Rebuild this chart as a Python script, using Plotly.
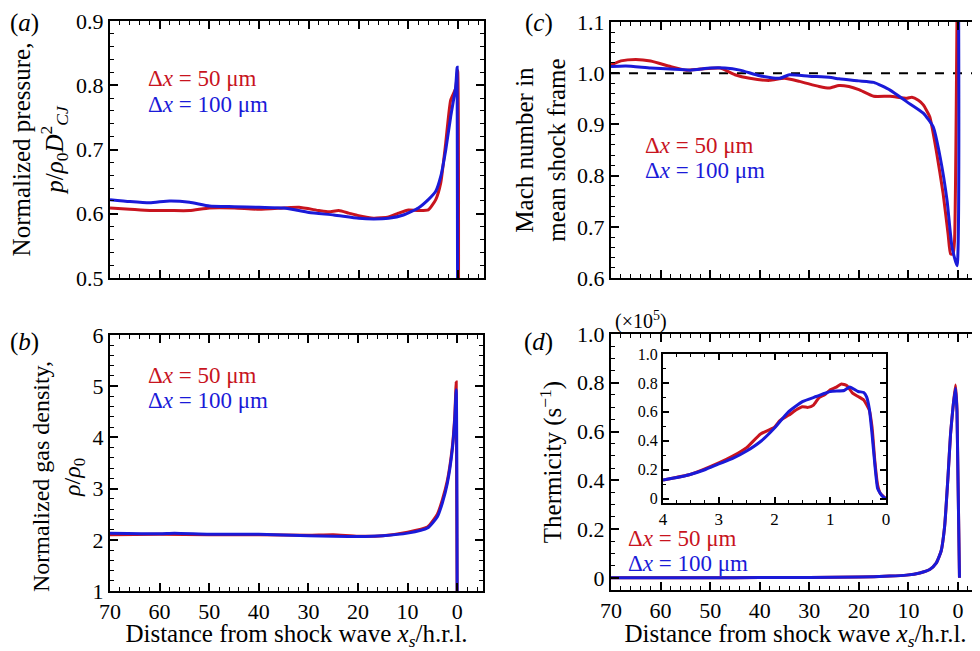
import plotly.graph_objects as go

# ---------------- data ----------------
# (a) normalized pressure
xa_red = [70, 66, 62, 58, 54, 50, 45, 40, 35, 32, 28, 26, 24, 22, 20, 17, 14, 12, 10, 8, 6, 4.5, 3.5, 2.5, 1.5, 0.5, 0.1, 0]
pa_red = [0.609, 0.607, 0.605, 0.605, 0.605, 0.609, 0.609, 0.607, 0.609, 0.610, 0.605, 0.603, 0.605, 0.601, 0.597, 0.593, 0.595, 0.601, 0.606, 0.605, 0.606, 0.622, 0.648, 0.710, 0.777, 0.795, 0.823, 0.02]
xa_blue = [70, 66, 62, 58, 54, 50, 45, 40, 35, 30, 25, 20, 17, 14, 11, 8, 6, 4.5, 3.5, 2.5, 1.5, 0.5, 0.2, 0]
pa_blue = [0.622, 0.619, 0.617, 0.620, 0.618, 0.612, 0.611, 0.610, 0.609, 0.602, 0.598, 0.593, 0.592, 0.593, 0.598, 0.609, 0.622, 0.635, 0.658, 0.699, 0.751, 0.797, 0.828, 0.02]

# (b) normalized gas density
xb_red = [70, 60, 50, 40, 30, 25, 20, 15, 10, 6, 4, 3, 2, 1, 0.5, 0.2, 0]
rb_red = [2.10, 2.11, 2.10, 2.10, 2.09, 2.10, 2.07, 2.08, 2.15, 2.25, 2.50, 2.78, 3.15, 3.80, 4.40, 5.08, 0.5]
xb_blue = [70, 60, 57, 50, 40, 30, 25, 20, 15, 10, 6, 4, 3, 2, 1, 0.5, 0.2, 0]
rb_blue = [2.13, 2.12, 2.13, 2.11, 2.11, 2.08, 2.07, 2.065, 2.08, 2.13, 2.23, 2.45, 2.72, 3.10, 3.75, 4.35, 4.93, 0.5]

# (c) Mach number in mean shock frame
xc_red = [70, 68, 65, 62, 58, 55, 52, 48, 45, 42, 38, 35, 32, 28, 26, 24, 22, 20, 17, 13.7, 10.3, 9.3, 8, 7, 5.7, 4.4, 3.0, 2.0, 1.5, 1.0, 0.7, 0]
mc_red = [1.016, 1.024, 1.027, 1.024, 1.013, 1.006, 1.008, 1.010, 0.997, 0.990, 0.986, 0.990, 0.984, 0.974, 0.971, 0.976, 0.974, 0.968, 0.955, 0.955, 0.951, 0.953, 0.947, 0.938, 0.915, 0.850, 0.765, 0.686, 0.647, 0.647, 0.673, 1.4]
xc_blue = [70, 67, 62, 58, 54, 50, 47, 44, 40, 36, 34, 30, 26, 24, 20, 17, 13.7, 10.3, 7, 5, 3.6, 2.2, 1.2, 0.2, 0]
mc_blue = [1.013, 1.014, 1.010, 1.008, 1.006, 1.010, 1.010, 1.006, 0.995, 0.990, 0.997, 0.994, 0.992, 0.989, 0.985, 0.982, 0.967, 0.944, 0.922, 0.895, 0.836, 0.751, 0.660, 0.624, 1.4]
mach_ref = 1.0

# (d) thermicity (x1e5 s^-1)
xd = [70, 50, 40, 30, 20, 13.8, 10.4, 7.7, 5.7, 4.4, 3.4, 2.7, 2.0, 1.5, 1.0, 0.5, 0.2, -0.3]
td_red = [0.0, 0.0005, 0.001, 0.001, 0.003, 0.007, 0.011, 0.02, 0.034, 0.06, 0.11, 0.21, 0.42, 0.59, 0.70, 0.791, 0.69, 0.0]
td_blue = [0.0, 0.0005, 0.001, 0.001, 0.003, 0.007, 0.011, 0.02, 0.034, 0.06, 0.11, 0.21, 0.42, 0.59, 0.70, 0.777, 0.68, 0.0]

# (d) inset: close-up near shock
xi_red = [4, 3.5, 3, 2.75, 2.5, 2.25, 2.0, 1.9, 1.75, 1.6, 1.5, 1.4, 1.3, 1.2, 1.1, 1.0, 0.9, 0.8, 0.7, 0.6, 0.5, 0.4, 0.3, 0.25, 0.2, 0.15, 0.1, 0]
ti_red = [0.129, 0.169, 0.247, 0.294, 0.353, 0.447, 0.494, 0.541, 0.576, 0.616, 0.635, 0.631, 0.647, 0.699, 0.718, 0.753, 0.769, 0.793, 0.781, 0.729, 0.706, 0.682, 0.612, 0.494, 0.259, 0.094, 0.035, 0.0]
xi_blue = [4, 3.75, 3.5, 3.25, 3, 2.75, 2.5, 2.25, 2, 1.75, 1.5, 1.25, 1.0, 0.75, 0.65, 0.5, 0.4, 0.35, 0.3, 0.25, 0.2, 0.15, 0.1, 0.05, 0]
ti_blue = [0.129, 0.146, 0.169, 0.200, 0.240, 0.278, 0.329, 0.395, 0.489, 0.600, 0.671, 0.706, 0.741, 0.748, 0.772, 0.741, 0.734, 0.706, 0.624, 0.447, 0.235, 0.070, 0.035, 0.012, 0.0]

legend_red = "Δ<i>x</i> = 50 μm"
legend_blue = "Δ<i>x</i> = 100 μm"

# ---------------- style ----------------
RED = "#C8141E"
BLUE = "#1A1AD8"
FONT = "Liberation Serif"
LW = 3

fig = go.Figure()

def add_pair(xr, yr, xbl, ybl, xaxis, yaxis, smooth=0.5):
    fig.add_trace(go.Scatter(x=xr, y=yr, mode="lines",
                             line=dict(color=RED, width=LW, shape="spline", smoothing=smooth),
                             xaxis=xaxis, yaxis=yaxis, showlegend=False, cliponaxis=True))
    fig.add_trace(go.Scatter(x=xbl, y=ybl, mode="lines",
                             line=dict(color=BLUE, width=LW, shape="spline", smoothing=smooth),
                             xaxis=xaxis, yaxis=yaxis, showlegend=False, cliponaxis=True))

add_pair(xa_red, pa_red, xa_blue, pa_blue, "x", "y")
add_pair(xb_red, rb_red, xb_blue, rb_blue, "x2", "y2")
add_pair(xc_red, mc_red, xc_blue, mc_blue, "x3", "y3")
add_pair(xd, td_red, xd, td_blue, "x4", "y4")
add_pair(xi_red, ti_red, xi_blue, ti_blue, "x5", "y5")

tickfont = dict(family=FONT, size=22, color="black")
titlefont = dict(family=FONT, size=25, color="black")

def xax(domain, rng, anchor, labels, title=None, dtick=10, minor=2, tf=tickfont, ticklen=8, mlen=4):
    d = dict(domain=domain, range=rng, anchor=anchor, showgrid=False, zeroline=False,
             automargin=False,
             showline=True, linecolor="black", linewidth=2, mirror="allticks",
             ticks="inside", ticklen=ticklen, tickwidth=1.5, tickcolor="black",
             dtick=dtick, tick0=0, showticklabels=labels, tickfont=tf,
             minor=dict(ticks="inside", ticklen=mlen, tickwidth=1.2, tickcolor="black", dtick=minor, showgrid=False))
    if title:
        d["title"] = dict(text=title, font=titlefont, standoff=6)
    return d

def yax(domain, rng, anchor, title, dtick, minor, tf=tickfont, tickformat=None, ticklen=8, mlen=4, standoff=10):
    d = dict(domain=domain, range=rng, anchor=anchor, showgrid=False, zeroline=False,
             automargin=False,
             showline=True, linecolor="black", linewidth=2, mirror="allticks",
             ticks="inside", ticklen=ticklen, tickwidth=1.5, tickcolor="black",
             dtick=dtick, tick0=0, tickfont=tf,
             minor=dict(ticks="inside", ticklen=mlen, tickwidth=1.2, tickcolor="black", dtick=minor, showgrid=False))
    if tickformat:
        d["tickformat"] = tickformat
    if title:
        d["title"] = dict(text=title, font=titlefont, standoff=standoff)
    return d

# page body has an 8 px margin: the figure is placed at (8, 8) on screen
OFF = 8
W, H = 980 - OFF, 651 - OFF
def px(a, b):
    return [(a - OFF) / W, (b - OFF) / W]
def py(top, bottom):
    return [1 - (bottom - OFF) / H, 1 - (top - OFF) / H]

xtitle = "Distance from shock wave <i>x<sub>s</sub></i>/h.r.l."

fig.update_layout(
    width=W, height=H, margin=dict(l=0, r=0, t=0, b=0, autoexpand=False),
    plot_bgcolor="white", paper_bgcolor="white",
    font=dict(family=FONT, color="black", size=20),
    xaxis=xax(px(110, 484), [70, -5.2], "y", False),
    yaxis=yax(py(21, 278), [0.5, 0.9], "x",
              "Normalized pressure,<br><i>p</i>/<i>ρ</i><sub>0</sub><i>D</i><sup>2</sup><sub><i>CJ</i></sub>",
              0.1, 0.02, tickformat=".1f", standoff=8),
    xaxis2=xax(px(110, 483), [70, -5.2], "y2", True, xtitle),
    yaxis2=yax(py(335, 591), [1, 6], "x2", None, 1, 0.2),
    xaxis3=xax(px(611, 980), [70, -4.44], "y3", False),
    yaxis3=yax(py(22, 278), [0.6, 1.1], "x3",
               "Mach number in<br>mean shock frame", 0.1, 0.02, tickformat=".1f", standoff=4),
    xaxis4=xax(px(611, 980), [70, -4.44], "y4", True, xtitle),
    yaxis4=yax(py(334, 590), [-0.05, 1.0], "x4", "Thermicity (s<sup>−1</sup>)", 0.2, 0.05, standoff=8),
    xaxis5=xax(px(663, 886), [4, 0], "y5", True, dtick=1, minor=0.25,
               tf=dict(family=FONT, size=17, color="black"), ticklen=6, mlen=3),
    yaxis5=yax(py(354, 503), [-0.03, 1.0], "x5", None, 0.2, 0.1,
               tf=dict(family=FONT, size=16, color="black"), ticklen=6, mlen=3),
)
fig.layout.yaxis4.tickvals = [0, 0.2, 0.4, 0.6, 0.8, 1.0]
fig.layout.yaxis4.ticktext = ["0", "0.2", "0.4", "0.6", "0.8", "1.0"]
fig.layout.yaxis5.tickvals = [0, 0.2, 0.4, 0.6, 0.8, 1.0]
fig.layout.yaxis5.ticktext = ["0", "0.2", "0.4", "0.6", "0.8", "1.0"]

# dashed reference line in (c)
fig.add_shape(type="line", xref="x3 domain", yref="y3", x0=0, x1=1, y0=mach_ref, y1=mach_ref,
              line=dict(color="black", width=2, dash="dash"), layer="below")

# annotations: panel labels, legends, (b) y-title
ann = []
def txt(x, y, s, size=22, color="black", xanchor="left", angle=0):
    ann.append(dict(x=(x - OFF) / W, y=1 - (y - OFF) / H, xref="paper", yref="paper", text=s, showarrow=False,
                    xanchor=xanchor, yanchor="middle", textangle=angle,
                    font=dict(family=FONT, size=size, color=color)))

txt(8, 23, "(<i>a</i>)", size=25)
txt(8, 342, "(<i>b</i>)", size=25)
txt(523, 23, "(<i>c</i>)", size=25)
txt(522, 342, "(<i>d</i>)", size=25)
txt(613, 320, "(×10<sup>5</sup>)", size=20)

txt(41, 477, "Normalized gas density,", size=24, xanchor="center", angle=-90)
txt(74, 478, "<i>ρ</i>/<i>ρ</i><sub>0</sub>", size=24, xanchor="center", angle=-90)

for (lx, ly) in [(146, 79), (146, 375), (643, 145), (626, 538)]:
    txt(lx, ly, legend_red, size=23, color=RED)
    txt(lx, ly + 25, legend_blue, size=23, color=BLUE)

fig.update_layout(annotations=ann)

fig.write_html("out.html")
